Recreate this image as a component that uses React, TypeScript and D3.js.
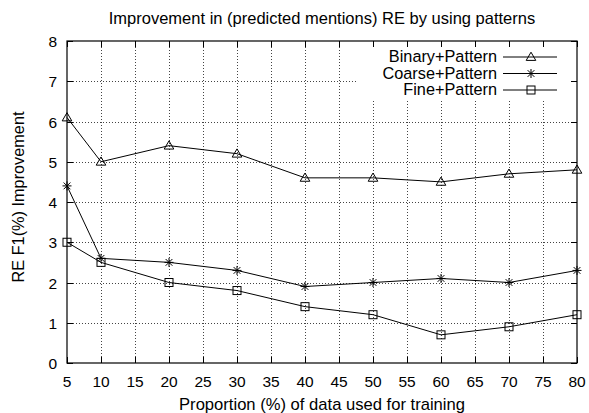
import React, { useEffect, useRef } from "react";
import * as d3 from "d3";

const proportions = [5, 10, 20, 30, 40, 50, 60, 70, 80];
const binaryPattern = [6.1, 5.0, 5.4, 5.2, 4.6, 4.6, 4.5, 4.7, 4.8];
const coarsePattern = [4.4, 2.6, 2.5, 2.3, 1.9, 2.0, 2.1, 2.0, 2.3];
const finePattern = [3.0, 2.5, 2.0, 1.8, 1.4, 1.2, 0.7, 0.9, 1.2];
const seriesNames = ["Binary+Pattern", "Coarse+Pattern", "Fine+Pattern"];
const xTicks = [5, 10, 15, 20, 25, 30, 35, 40, 45, 50, 55, 60, 65, 70, 75, 80];
const yTicks = [0, 1, 2, 3, 4, 5, 6, 7, 8];

const width = 589;
const height = 413;
const margin = { top: 41, right: 12, bottom: 50, left: 67 };
const font = "'Liberation Sans', Arial, Helvetica, sans-serif";

function drawMarker(g: any, kind: string, x: number, y: number) {
  if (kind === "triangle") {
    g.append("path")
      .attr("d", `M${x},${y - 4.8}L${x + 4.8},${y + 3.4}L${x - 4.8},${y + 3.4}Z`)
      .attr("fill", "none")
      .attr("stroke", "#000");
  } else if (kind === "star") {
    const r = 4.5;
    g.append("path")
      .attr(
        "d",
        `M${x - r},${y}L${x + r},${y}M${x},${y - r}L${x},${y + r}` +
          `M${x - r * 0.75},${y - r * 0.75}L${x + r * 0.75},${y + r * 0.75}` +
          `M${x - r * 0.75},${y + r * 0.75}L${x + r * 0.75},${y - r * 0.75}`
      )
      .attr("stroke", "#000");
  } else {
    g.append("rect")
      .attr("x", x - 4)
      .attr("y", y - 4)
      .attr("width", 8)
      .attr("height", 8)
      .attr("fill", "none")
      .attr("stroke", "#000");
  }
}

export default function App() {
  const ref = useRef<SVGSVGElement>(null);

  useEffect(() => {
    const svg = d3.select(ref.current);
    svg.selectAll("*").remove();

    const innerW = width - margin.left - margin.right;
    const innerH = height - margin.top - margin.bottom;

    const x = d3.scaleLinear().domain([5, 80]).range([margin.left, margin.left + innerW]);
    const y = d3.scaleLinear().domain([0, 8]).range([margin.top + innerH, margin.top]);

    svg.append("rect").attr("width", width).attr("height", height).attr("fill", "#fff");

    // grid
    const grid = svg.append("g").attr("stroke", "#444").attr("stroke-dasharray", "1,2").attr("stroke-width", 1);
    xTicks.slice(1, -1).forEach((t) => {
      grid.append("line")
        .attr("x1", Math.round(x(t)) + 0.5).attr("x2", Math.round(x(t)) + 0.5)
        .attr("y1", y(0)).attr("y2", y(8));
    });
    yTicks.slice(1, -1).forEach((t) => {
      grid.append("line")
        .attr("x1", x(5)).attr("x2", x(80))
        .attr("y1", Math.round(y(t)) + 0.5).attr("y2", Math.round(y(t)) + 0.5);
    });

    // legend background covers grid
    const legX = 358;
    svg.append("rect")
      .attr("x", legX).attr("y", y(8))
      .attr("width", x(80) - legX).attr("height", 101 - y(8))
      .attr("fill", "#fff");

    // ticks, inward on all sides
    const ticks = svg.append("g").attr("stroke", "#000");
    xTicks.forEach((t) => {
      const px = Math.round(x(t)) + 0.5;
      ticks.append("line").attr("x1", px).attr("x2", px).attr("y1", y(0)).attr("y2", y(0) - 6);
      ticks.append("line").attr("x1", px).attr("x2", px).attr("y1", y(8)).attr("y2", y(8) + 6);
    });
    yTicks.forEach((t) => {
      const py = Math.round(y(t)) + 0.5;
      ticks.append("line").attr("x1", x(5)).attr("x2", x(5) + 6).attr("y1", py).attr("y2", py);
      ticks.append("line").attr("x1", x(80)).attr("x2", x(80) - 6).attr("y1", py).attr("y2", py);
    });

    // frame
    svg.append("rect")
      .attr("x", x(5)).attr("y", y(8))
      .attr("width", x(80) - x(5)).attr("height", y(0) - y(8))
      .attr("fill", "none").attr("stroke", "#000").attr("stroke-width", 1.2);

    // tick labels
    const labels = svg.append("g").attr("font-family", font).attr("font-size", 15.5).attr("fill", "#000");
    xTicks.forEach((t) => {
      labels.append("text").attr("x", x(t)).attr("y", y(0) + 24).attr("text-anchor", "middle").text(t);
    });
    yTicks.forEach((t) => {
      labels.append("text").attr("x", x(5) - 10).attr("y", y(t) + 6).attr("text-anchor", "end").text(t);
    });

    // series
    const series = [
      { name: seriesNames[0], values: binaryPattern, marker: "triangle" },
      { name: seriesNames[1], values: coarsePattern, marker: "star" },
      { name: seriesNames[2], values: finePattern, marker: "square" },
    ];
    const line = d3.line<number>().x((_, i) => x(proportions[i])).y((d) => y(d));
    series.forEach((s, si) => {
      const g = svg.append("g");
      g.append("path").attr("d", line(s.values)).attr("fill", "none").attr("stroke", "#000").attr("stroke-width", 1);
      s.values.forEach((v, i) => drawMarker(g, s.marker, x(proportions[i]), y(v)));

      const baseline = 62 + si * 16.5;
      const ly = baseline - 5;
      g.append("text")
        .attr("x", 497).attr("y", baseline)
        .attr("text-anchor", "end")
        .attr("font-family", font).attr("font-size", 16.3)
        .text(s.name);
      g.append("line").attr("x1", 503).attr("x2", 557).attr("y1", ly).attr("y2", ly).attr("stroke", "#000");
      drawMarker(g, s.marker, 531, ly);
    });

    // titles
    svg.append("text")
      .attr("x", 322).attr("y", 23.5)
      .attr("text-anchor", "middle")
      .attr("font-family", font).attr("font-size", 16.5)
      .text("Improvement in (predicted mentions) RE by using patterns");

    svg.append("text")
      .attr("x", 322).attr("y", 410)
      .attr("text-anchor", "middle")
      .attr("font-family", font).attr("font-size", 16.6)
      .text("Proportion (%) of data used for training");

    svg.append("text")
      .attr("transform", `translate(24,197) rotate(-90)`)
      .attr("text-anchor", "middle")
      .attr("font-family", font).attr("font-size", 16.3)
      .text("RE F1(%) Improvement");
  }, []);

  return (
    <svg
      ref={ref}
      width={width}
      height={height}
      style={{ position: "absolute", left: 0, top: 0, display: "block" }}
    />
  );
}
